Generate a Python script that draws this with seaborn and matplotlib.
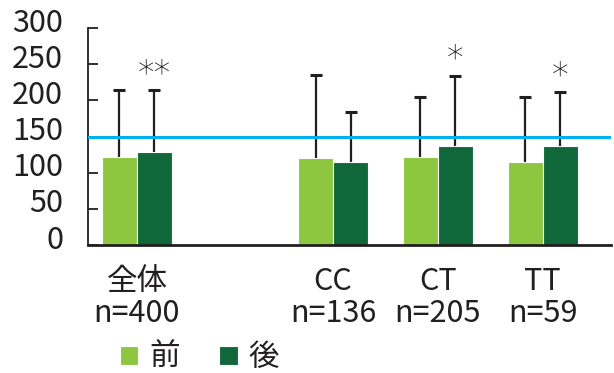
import numpy as np
import pandas as pd
import matplotlib
matplotlib.use("Agg")
import matplotlib.pyplot as plt
import matplotlib.transforms as mtransforms
import seaborn as sns

# ---- data ----
groups = ["全体", "CC", "CT", "TT"]
n_labels = ["n=400", "n=136", "n=205", "n=59"]
phases = ["前", "後"]
mean_before = [121, 120, 122, 115]
mean_after = [128, 115, 137, 137]
sd_before = [93, 115, 82, 90]      # upward error (top - mean)
sd_after = [86, 69, 97, 74]
signif_after = ["**", "", "*", "*"]
reference_value = 150
yticks = [0, 50, 100, 150, 200, 250, 300]

# ---- layout ----
group_pos = [0.0, 1.87, 2.87, 3.87]
colors = {"前": "#8dc63f", "後": "#10673a"}

rows = []
for i, g in enumerate(groups):
    rows.append(dict(pos=group_pos[i], group=g, phase="前", mean=mean_before[i], sd=sd_before[i]))
    rows.append(dict(pos=group_pos[i], group=g, phase="後", mean=mean_after[i], sd=sd_after[i]))
df = pd.DataFrame(rows)

sns.set_theme(style="white")
plt.rcParams["font.family"] = ["Noto Sans CJK JP", "DejaVu Sans"]
plt.rcParams["axes.unicode_minus"] = False

fig = plt.figure(figsize=(6.14, 3.73), dpi=100)
ax = fig.add_axes([88 / 614, 128 / 373, (611 - 88) / 614, 217 / 373])

sns.barplot(data=df, x="pos", y="mean", hue="phase", hue_order=phases,
            palette=colors, native_scale=True, width=0.667, errorbar=None,
            edgecolor="white", linewidth=0.8, saturation=1, ax=ax)

# error bars (upward only), from the bar containers
ink = "#231f20"
for level, container in zip(phases, ax.containers):
    sub = df[df.phase == level].sort_values("pos")
    bars = sorted(container.patches, key=lambda p: p.get_x())
    xs = np.array([b.get_x() + b.get_width() / 2 for b in bars])
    tops = sub["mean"].values + sub["sd"].values
    ax.vlines(xs, sub["mean"].values, tops, color=ink, lw=1.6, zorder=3)
    ax.plot(xs, tops, ls="none", marker="_", ms=8, mew=2.2, color=ink, zorder=3)
    if level == "後":
        for x, t, lab in zip(xs, tops, signif_after):
            if lab:
                ax.annotate(lab, (x, t), xytext=(0, 0), textcoords="offset points",
                            ha="center", va="bottom", fontsize=24, color="#111111",
                            family="DejaVu Sans", fontweight="light")

ax.axhline(reference_value, color="#00aeef", lw=2.2, zorder=4)

ax.set_ylim(0, 300)
ax.set_xlim(-0.467, 4.52)
ax.set_yticks(yticks)
ax.set_yticklabels([str(v) for v in yticks])
ax.set_xticks(group_pos)
ax.set_xticklabels([f"{g}\n{n}" for g, n in zip(groups, n_labels)], linespacing=1.05)
ax.set_xlabel("")
ax.set_ylabel("")

ax.tick_params(axis="y", direction="in", length=7, width=1.3, color=ink,
               labelsize=22, labelcolor=ink, pad=18, left=True)
ax.tick_params(axis="x", length=0, labelsize=22, labelcolor=ink, pad=15)

for s in ["top", "right"]:
    ax.spines[s].set_visible(False)
ax.spines["left"].set_color(ink)
ax.spines["left"].set_linewidth(1.3)
ax.spines["bottom"].set_color(ink)
ax.spines["bottom"].set_linewidth(2)

shift = mtransforms.ScaledTranslation(0, 6 / 72, fig.dpi_scale_trans)
for lab in ax.get_yticklabels():
    lab.set_transform(lab.get_transform() + shift)

leg = ax.legend(loc="lower left", bbox_to_anchor=(120 / 614, 0.0),
                bbox_transform=fig.transFigure, ncol=2, frameon=False,
                fontsize=22, handlelength=0.6, handleheight=0.6,
                handletextpad=0.35, columnspacing=1.3, borderaxespad=0,
                borderpad=0.0)
for t in leg.get_texts():
    t.set_color(ink)

fig.savefig("out.png", dpi=100)
